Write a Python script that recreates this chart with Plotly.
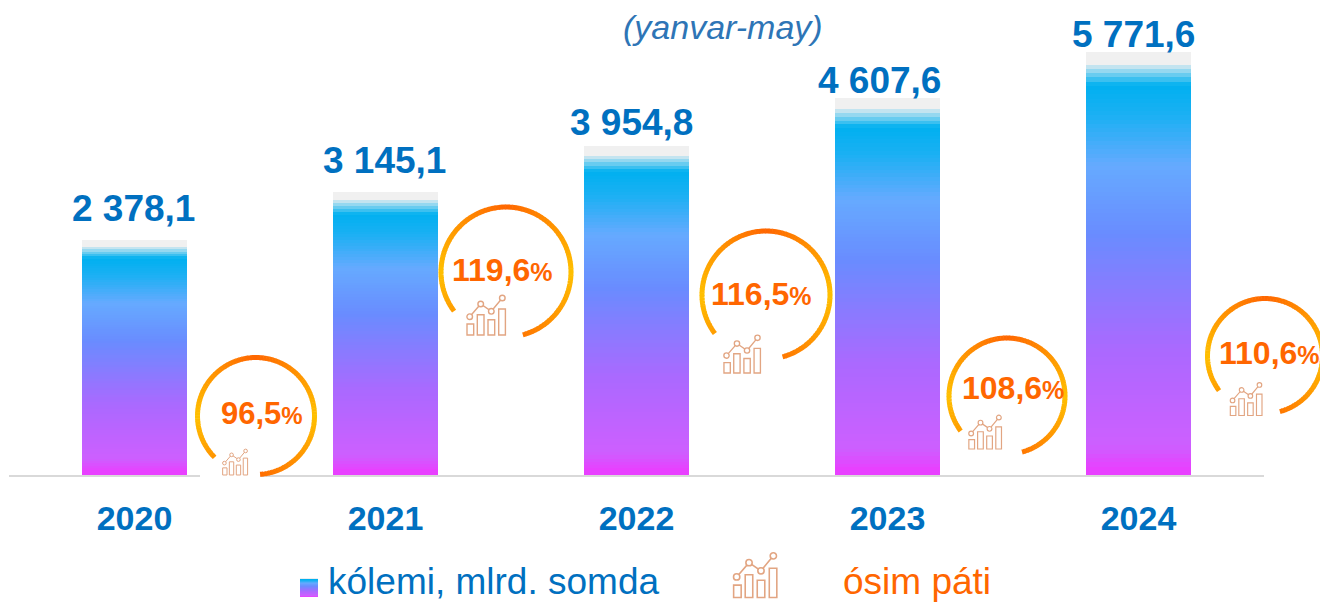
import math
import plotly.graph_objects as go

years = ["2020", "2021", "2022", "2023", "2024"]
volume_labels = ["2 378,1", "3 145,1", "3 954,8", "4 607,6", "5 771,6"]
# drawn bar heights (the bars are not to scale with their labels)
bar_heights = [235, 283, 329, 377, 423]
growth_labels = ["96,5", "119,6", "116,5", "108,6", "110,6"]

W, H = 1320, 604
BASE = 475
BLUE = "#0070C0"
ORANGE = "#FF6600"
ICON = "#E2A582"

grad = [(0, (240, 240, 240)), (0.025, (240, 240, 240)), (0.078, (0, 176, 240)), (0.15, (27, 176, 243)),
        (0.27, (102, 170, 255)), (0.43, (105, 140, 255)), (0.7, (170, 105, 255)), (0.93, (205, 95, 255)),
        (0.985, (232, 64, 255)), (1, (232, 64, 255))]


def grad_color(t):
    for (a, ca), (b, cb) in zip(grad, grad[1:]):
        if t <= b:
            f = (t - a) / (b - a) if b > a else 0
            return "rgb(%d,%d,%d)" % tuple(round(x + (y - x) * f) for x, y in zip(ca, cb))
    return "rgb(232,64,255)"


N = 100
fig = go.Figure()
for i in range(N):
    t = (N - 1 - i + 0.5) / N  # bottom of stack first; t measured from the top
    fig.add_bar(x=years, y=[h / N for h in bar_heights], marker=dict(color=grad_color(t), line=dict(width=0)),
                hoverinfo="skip", showlegend=False)

shapes = []
annotations = []


def px(x):
    return x / W


def py(y):
    return 1 - y / H


def path_shape(pts, color, width, close=False):
    d = "M" + " L".join(f"{px(x):.5f},{py(y):.5f}" for x, y in pts) + (" Z" if close else "")
    return dict(type="path", xref="paper", yref="paper", path=d, line=dict(color=color, width=width), layer="above")


def arc_color(a):
    # a: degrees clockwise from top. red-orange top, yellow at sides, orange at bottom
    c = abs(((a + 180) % 360) - 180)
    if c <= 90:
        f = c / 90
        c0, c1 = (255, 102, 0), (255, 192, 0)
    else:
        f = (c - 90) / 90
        c0, c1 = (255, 192, 0), (255, 105, 0)
    return "rgb(%d,%d,%d)" % tuple(round(x + (y - x) * f) for x, y in zip(c0, c1))


def ring(cx, cy, r, start, end, w=5):
    n = int((end - start) / 3)
    for k in range(n):
        a0 = start + (end - start) * k / n
        a1 = start + (end - start) * (k + 1) / n + (0.5 if k < n - 1 else 0)
        pts = [(cx + r * math.sin(math.radians(a)), cy - r * math.cos(math.radians(a))) for a in (a0, (a0 + a1) / 2, a1)]
        shapes.append(path_shape(pts, arc_color((a0 + a1) / 2), w))


def icon(cx, cy, s):
    # s = total icon width in px
    u = s / 40
    lw = max(1, 1.4 * u)
    bar_w = 6.7
    bars = [(-19, 9), (-8.7, -0.3), (2, 4.7), (12.7, -6)]  # left, top
    for l, t in bars:
        pts = [(cx + l * u, cy + 20 * u), (cx + l * u, cy + t * u), (cx + (l + bar_w) * u, cy + t * u), (cx + (l + bar_w) * u, cy + 20 * u)]
        shapes.append(path_shape(pts, ICON, lw, close=True))
    nodes = [(-16.3, 1.7), (-5.3, -11), (5.3, -3.7), (16.3, -17)]
    nodes = [(cx + a * u, cy + b * u) for a, b in nodes]
    shapes.append(path_shape(nodes, ICON, lw))
    for x, y in nodes:
        r = 2.8 * u
        shapes.append(dict(type="circle", xref="paper", yref="paper", x0=px(x - r), x1=px(x + r), y0=py(y + r), y1=py(y - r),
                           line=dict(color=ICON, width=lw), fillcolor="white", layer="above"))


# white gap in the axis line under the first badge
shapes.append(dict(type="rect", xref="paper", yref="paper", x0=px(200), x1=px(260), y0=py(482), y1=py(470),
                   fillcolor="white", line=dict(width=0), layer="above"))

centers = [(256, 416, 58.5), (506, 272, 65), (766, 295, 64), (1007, 396, 58), (1265, 356, 57.5)]
arc_span = [(-135, 176), (-127, 165), (-127, 165), (-127, 165), (-127, 165)]
icons = [(235, 462, 26), (486, 315, 40), (742, 354, 38), (985, 432, 34), (1246, 399, 33), (755, 575, 45)]
text_pos = [(262, 414, 31), (502, 270, 32), (761, 294, 32), (1013, 388, 32), (1269, 353, 32)]
for (cx, cy, r), (a0, a1) in zip(centers, arc_span):
    ring(cx, cy, r, a0, a1)
for c in icons:
    icon(*c)

for lab, (x, y, fs) in zip(growth_labels, text_pos):
    annotations.append(dict(xref="paper", yref="paper", x=px(x), y=py(y), showarrow=False, xanchor="center", yanchor="middle",
                            text=f"<b><span style='font-size:{fs}px'>{lab}</span><span style='font-size:{fs-7}px'>%</span></b>",
                            font=dict(family="Liberation Sans", color=ORANGE)))

label_xshift = [-1, -1, -5, -8, -5]
label_yshift = [32, 32, 24, 18, 18]
for i, (lab, h, dx, dy) in enumerate(zip(volume_labels, bar_heights, label_xshift, label_yshift)):
    annotations.append(dict(xref="x", yref="y", x=i, y=h, xshift=dx, yshift=dy, showarrow=False, xanchor="center", yanchor="middle",
                            text=f"<b>{lab}</b>", font=dict(family="Liberation Sans", size=37, color=BLUE)))

annotations.append(dict(xref="paper", yref="paper", x=px(723), y=py(27), xanchor="center", yanchor="middle", showarrow=False,
                        text="<i>(yanvar-may)</i>", font=dict(family="Liberation Sans", size=34, color="#2E75B6")))
annotations.append(dict(xref="paper", yref="paper", x=px(326), y=py(581), xanchor="left", yanchor="middle", showarrow=False,
                        text="kólemi, mlrd. somda", font=dict(family="Liberation Sans", size=37, color=BLUE)))
annotations.append(dict(xref="paper", yref="paper", x=px(841), y=py(581), xanchor="left", yanchor="middle", showarrow=False,
                        text="ósim páti", font=dict(family="Liberation Sans", size=37, color=ORANGE)))

# legend swatch
for k in range(19):
    shapes.append(dict(type="rect", xref="paper", yref="paper", x0=px(300), x1=px(318), y0=py(578 + k + 1), y1=py(578 + k),
                       fillcolor=grad_color((k + 0.5) / 19), line=dict(width=0), layer="above"))

fig.update_layout(
    width=W, height=H, autosize=False, barmode="stack", bargap=0.582,
    margin=dict(l=0, r=0, t=0, b=0), paper_bgcolor="white", plot_bgcolor="white",
    xaxis=dict(domain=[9 / W, 1264 / W], type="category", range=[-0.5, 4.5], showline=True, linecolor="#D9D9D9", linewidth=2, showgrid=False,
               ticks="outside", ticklen=12, tickcolor="rgba(0,0,0,0)",
               tickfont=dict(family="Liberation Sans", size=34, color=BLUE, weight="bold")),
    yaxis=dict(domain=[1 - BASE / H, 1], range=[0, BASE], visible=False, fixedrange=True),
    shapes=shapes, annotations=annotations,
)
fig.write_html("out.html", config={"displayModeBar": False}, post_script="document.body.style.margin='0';document.body.style.overflow='hidden';")
